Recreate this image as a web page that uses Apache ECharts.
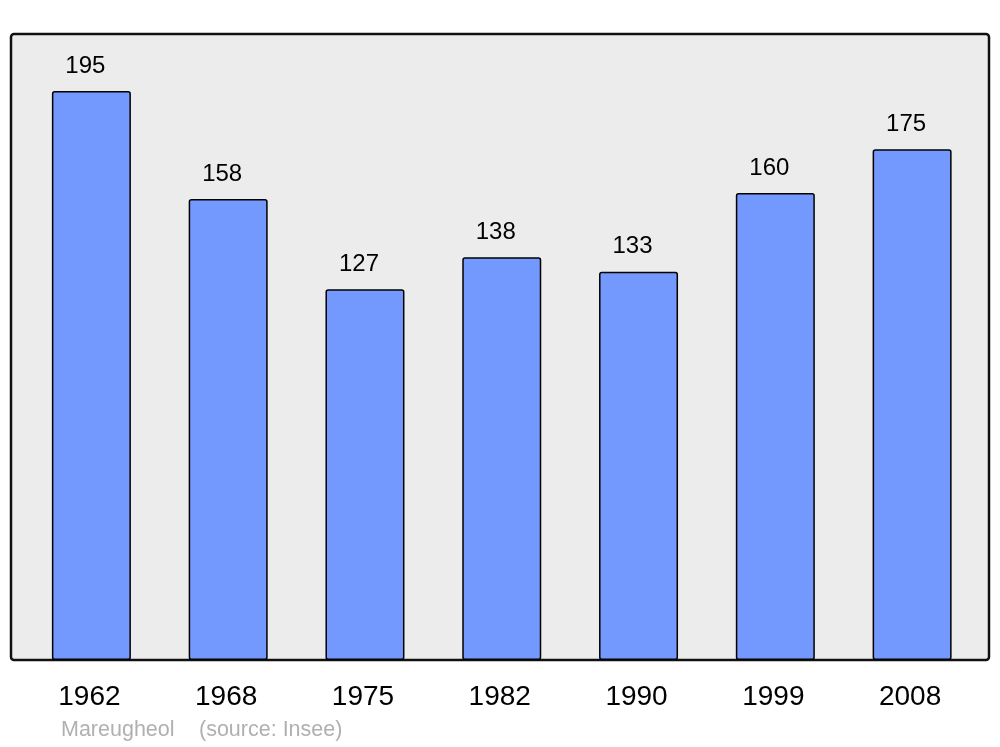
<!DOCTYPE html>
<html>
<head>
<meta charset="utf-8">
<script src="https://cdn.jsdelivr.net/npm/echarts@6/dist/echarts.min.js"></script>
<style>html,body{margin:0;padding:0;background:#fff}#c{width:1000px;height:747px}</style>
</head>
<body>
<div id="c"></div>
<script>
const categories = ['1962', '1968', '1975', '1982', '1990', '1999', '2008'];
const population = [195, 158, 127, 138, 133, 160, 175];
const townName = 'Mareugheol';
const sourceText = '(source: Insee)';

const chart = echarts.init(document.getElementById('c'), null, {renderer: 'canvas'});
chart.setOption({
  animation: false,
  backgroundColor: '#ffffff',
  textStyle: {fontFamily: 'Liberation Sans, Arial, sans-serif'},
  title: [
    {text: townName, left: 61, top: 719, padding: 0, textStyle: {color: '#b0b0b0', fontSize: 21.5, fontWeight: 'normal', fontFamily: 'Liberation Sans'}},
    {text: sourceText, left: 199, top: 719, padding: 0, textStyle: {color: '#b0b0b0', fontSize: 21.5, fontWeight: 'normal', fontFamily: 'Liberation Sans'}}
  ],
  graphic: [{
    type: 'rect', z: -10, silent: true,
    shape: {x: 11, y: 34, width: 978, height: 626, r: 3},
    style: {fill: '#ececec', stroke: '#111111', lineWidth: 2.5}
  }],
  grid: {left: 23, right: 19.5, top: 34, bottom: 87, containLabel: false},
  xAxis: {
    type: 'category', data: categories,
    axisLine: {show: false}, axisTick: {show: false},
    axisLabel: {fontSize: 28, color: '#000', margin: 23, padding: [0, 4, 0, 0], fontFamily: 'Liberation Sans'}
  },
  yAxis: {
    type: 'value', min: 0, max: 214.5, show: false, splitLine: {show: false}
  },
  series: [{
    type: 'bar', data: population, barWidth: 79,
    itemStyle: {color: '#7399ff', borderColor: '#000', borderWidth: 1.5, borderRadius: 2},
    label: {show: true, position: 'top', distance: 13, offset: [-6, 0], fontSize: 24, color: '#000', fontFamily: 'Liberation Sans'}
  }]
});
</script>
</body>
</html>
